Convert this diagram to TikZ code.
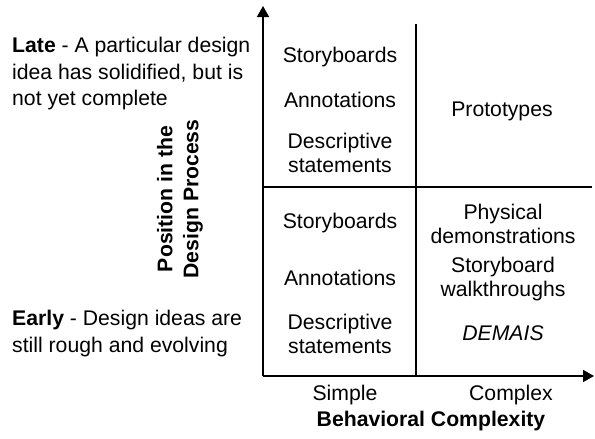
\documentclass[tikz,border=0pt]{standalone}
\usepackage{fontspec}
\setmainfont{Liberation Sans}
\usetikzlibrary{arrows.meta}

\tikzset{
  cell/.style={align=center, font=\fontsize{21.2}{24.5}\selectfont, inner sep=0pt},
  note/.style={align=left, anchor=west, font=\fontsize{21.2}{26.5}\selectfont, inner sep=0pt},
  axis/.style={line width=1.6pt, -{Triangle[width=12pt,length=11pt]}}
}

\begin{document}
\begin{tikzpicture}[x=1pt, y=-1pt]
    \useasboundingbox (0,0) rectangle (595,439);

    % axes and grid
    \coordinate (o) at (263,376);
    \coordinate (ytop) at (263,6);
    \coordinate (xend) at (594,376);
    \coordinate (midtop) at (416,24);
    \coordinate (midbot) at (416,376);
    \coordinate (midl) at (263,187);
    \coordinate (midr) at (592,187);
    \draw[axis] (o) -- (ytop);
    \draw[axis] (o) -- (xend);
    \draw[line width=1.3pt] (midtop) -- (midbot);
    \draw[line width=1.3pt] (midl) -- (midr);

    % cells
    \node[cell] (sb1) at (340,57) {Storyboards};
    \node[cell] (an1) at (340,100) {Annotations};
    \node[cell] (ds1) at (340,153) {Descriptive\\statements};
    \node[cell] (proto) at (502,111) {Prototypes};

    \node[cell] (sb2) at (340,223) {Storyboards};
    \node[cell] (an2) at (340,278) {Annotations};
    \node[cell] (ds2) at (340,334) {Descriptive\\statements};
    \node[cell] (phys) at (503,224) {Physical\\demonstrations};
    \node[cell] (walk) at (503,279) {Storyboard\\walkthroughs};
    \node[cell] (demais) at (503,333) {\itshape DEMAIS};

    % axis labels
    \node[cell] (simple) at (345,395) {Simple};
    \node[cell] (complex) at (511,395) {Complex};
    \node[cell, font=\fontsize{21.2}{25}\selectfont\bfseries] (xlabel) at (431,421) {Behavioral Complexity};
    \node[cell, font=\fontsize{21.2}{26}\selectfont\bfseries, rotate=90] (ylabel) at (180,199) {Position in the\\Design Process};

    % stage notes
    \node[note] (late) at (12,74) {\textbf{Late} - A particular design\\idea has solidified, but is\\not yet complete};
    \node[note] (early) at (12,333.5) {\textbf{Early} - Design ideas are\\still rough and evolving};
\end{tikzpicture}
\end{document}
